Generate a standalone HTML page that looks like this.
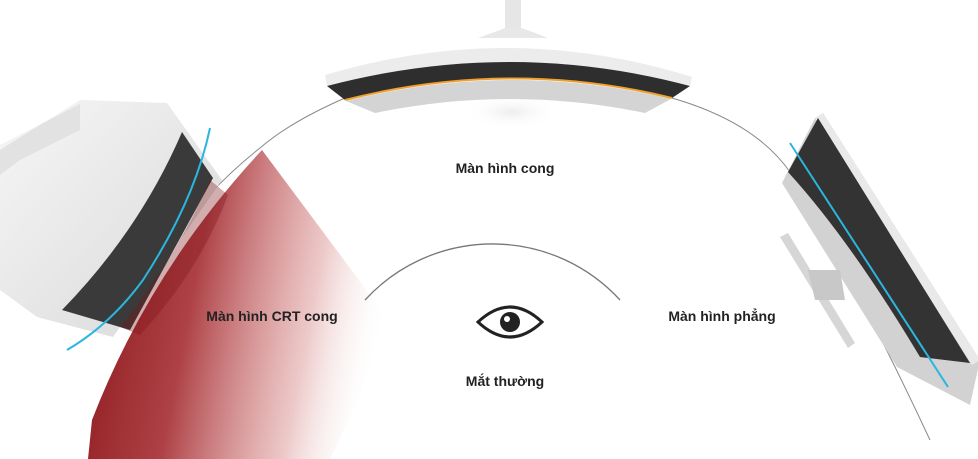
<!DOCTYPE html>
<html><head><meta charset="utf-8"><style>
html,body{margin:0;padding:0;background:#fff;}
svg{display:block}
text{font-family:"Liberation Sans",sans-serif;font-weight:bold;font-size:14px;fill:#222;}
</style></head><body>
<svg width="978" height="459" viewBox="0 0 978 459" xmlns="http://www.w3.org/2000/svg">
<defs>
<linearGradient id="red" x1="0" y1="0.4" x2="1" y2="0.6">
<stop offset="0" stop-color="#8e1b1f"/>
<stop offset="0.35" stop-color="#a42c31" stop-opacity="0.9"/>
<stop offset="0.75" stop-color="#c66" stop-opacity="0.35"/>
<stop offset="1" stop-color="#fff" stop-opacity="0"/>
</linearGradient>
<linearGradient id="gray" x1="0" y1="0" x2="1" y2="1">
<stop offset="0" stop-color="#f6f6f6"/><stop offset="1" stop-color="#d8d8d8"/>
</linearGradient>
<radialGradient id="sh" cx="0.5" cy="0.5" r="0.5">
<stop offset="0" stop-color="#eee"/><stop offset="1" stop-color="#fff" stop-opacity="0"/>
</radialGradient>
</defs>
<!-- big arc -->
<path d="M345,98 Q290,122 260,148 Q200,195 140,280" fill="none" stroke="#888" stroke-width="1"/>
<path d="M672,98 Q755,122 790,172 Q860,290 930,440" fill="none" stroke="#888" stroke-width="1"/>
<!-- left CRT -->
<path d="M0,145 L45,122 L80,100 L167,103 L222,180 L113,337 L37,317 L0,290 Z" fill="url(#gray)"/>
<path d="M0,150 L43,123 L80,104 L80,130 L20,160 L0,175 Z" fill="#e2e2e2"/>
<path d="M182,132 L213,178 L130,330 L62,310 Q140,230 182,132 Z" fill="#3a3a3a"/>
<!-- red wedge -->
<path d="M262,150 Q150,270 92,420 L88,459 L330,459 Q370,380 385,315 Z" fill="url(#red)"/>
<path d="M210,180 L228,195 Q200,270 140,335 L120,327 Q175,260 210,180 Z" fill="#7e1418" opacity="0.35"/>
<path d="M210,128 Q195,200 143,280 Q110,325 67,350" fill="none" stroke="#2bb6e0" stroke-width="2"/>
<!-- inner arc -->
<path d="M365,300 A173,173 0 0 1 620,300" fill="none" stroke="#777" stroke-width="1.3"/>
<!-- top monitor -->
<ellipse cx="512" cy="112" rx="50" ry="18" fill="url(#sh)"/>
<path d="M505,0 L521,0 L521,32 L505,32 Z" fill="#e6e6e6"/>
<path d="M478,38 Q500,30 505,28 L521,28 Q528,30 548,38 Z" fill="#e8e8e8"/>
<path d="M325,75 Q510,20 692,77 L690,86 Q510,38 327,86 Z" fill="#ececec"/>
<path d="M327,86 Q510,38 690,86 L672,98 Q510,58 345,100 Z" fill="#2e2e2e"/>
<path d="M345,100 Q510,58 672,98" fill="none" stroke="#f0a030" stroke-width="2"/>
<path d="M346,101 Q510,60 671,99 L645,113 Q510,85 375,113 Z" fill="#d4d4d4"/>
<!-- right flat monitor -->
<path d="M782,183 L815,118 L823,113 L980,360 L970,405 L897,367 Z" fill="#d2d2d2"/>
<path d="M815,118 L823,113 L980,360 L972,365 Z" fill="#e9e9e9"/>
<path d="M788,172 L818,118 L970,363 L920,357 Q850,240 788,172 Z" fill="#333"/>
<path d="M780,237 L788,233 L855,343 L848,348 Z" fill="#d6d6d6"/>
<path d="M808,270 L840,270 L845,300 L815,300 Z" fill="#c8c8c8"/>
<path d="M790,143 L948,387" stroke="#2bb6e0" stroke-width="2"/>
<!-- eye -->
<g transform="translate(510,322)">
<path d="M-32,0 Q0,-30 32,0 Q0,30 -32,0 Z" fill="none" stroke="#222" stroke-width="3"/>
<circle r="10" fill="#222"/><circle cx="-3" cy="-3" r="3" fill="#fff"/>
</g>
<text x="505" y="173" text-anchor="middle">Màn hình cong</text>
<text x="272" y="321" text-anchor="middle">Màn hình CRT cong</text>
<text x="722" y="321" text-anchor="middle">Màn hình phẳng</text>
<text x="505" y="386" text-anchor="middle">Mắt thường</text>
</svg>
</body></html>
